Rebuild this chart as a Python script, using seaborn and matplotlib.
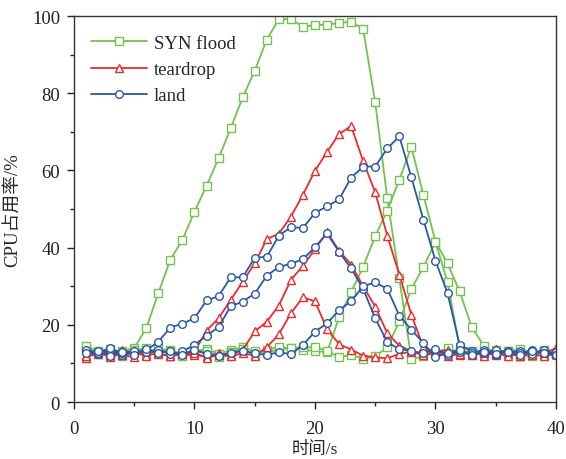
import numpy as np
import pandas as pd
import matplotlib
matplotlib.use("Agg")
import matplotlib.pyplot as plt
import seaborn as sns

# =============================================================================
# Data
# =============================================================================

time_s = list(range(1, 41))

syn_flood_1 = [14.0, 13.2, 12.3, 13.1, 14.0, 19.1, 28.2, 36.9, 42.0, 49.3,
               56.0, 63.1, 70.9, 78.9, 85.8, 93.9, 99.2, 99.2, 97.2, 97.6,
               97.8, 98.2, 98.5, 96.6, 77.6, 52.8, 32.0, 11.1, 11.8, 12.8,
               13.9, 13.0, 12.2, 13.1, 12.4, 13.3, 12.0, 12.6, 13.4, 12.2]
syn_flood_2 = [13.5, 12.4, 13.8, 12.0, 13.2, 14.1, 12.6, 13.5, 12.2, 13.0,
               13.8, 12.5, 13.4, 14.2, 13.1, 12.8, 13.6, 14.0, 13.5, 13.2,
               12.9, 21.9, 28.5, 35.0, 43.0, 49.6, 57.6, 66.1, 53.6, 41.5,
               31.0, 14.2, 13.2, 12.5, 13.6, 12.9, 13.8, 12.4, 13.0, 12.7]
syn_flood_3 = [14.6, 13.0, 11.8, 12.9, 13.6, 12.4, 14.0, 13.1, 11.9, 12.6,
               13.3, 11.7, 12.9, 13.8, 12.2, 13.5, 14.3, 13.9, 14.2, 14.2,
               13.3, 11.6, 12.2, 11.2, 11.8, 14.2, 20.9, 29.3, 35.0, 41.5,
               35.9, 28.7, 19.5, 14.6, 12.5, 13.2, 12.1, 11.9, 13.1, 12.4]

teardrop_1 = [11.5, 13.2, 12.4, 13.5, 12.6, 12.1, 13.8, 12.3, 12.9, 13.0,
              18.5, 21.7, 26.4, 31.2, 35.9, 42.2, 43.6, 48.0, 53.7, 59.9,
              64.8, 69.4, 71.5, 62.4, 54.3, 43.1, 33.0, 22.6, 14.2, 12.9,
              13.5, 12.2, 13.1, 12.6, 13.7, 12.4, 12.0, 13.3, 12.5, 14.0]
teardrop_2 = [12.2, 12.9, 11.6, 12.5, 13.3, 12.0, 12.7, 11.8, 12.4, 12.1,
              11.9, 12.6, 12.2, 13.5, 18.3, 20.8, 25.0, 31.6, 35.3, 39.6,
              44.0, 39.2, 35.6, 30.0, 24.7, 17.8, 14.6, 13.2, 12.4, 13.0,
              12.6, 13.4, 12.1, 12.8, 12.3, 13.1, 11.8, 12.5, 12.9, 12.6]
teardrop_3 = [11.8, 12.4, 12.9, 12.1, 11.7, 13.2, 12.5, 11.9, 12.6, 12.8,
              11.4, 12.2, 11.8, 12.7, 12.0, 14.2, 17.5, 23.0, 27.1, 26.1,
              18.9, 15.0, 13.6, 12.0, 11.6, 11.3, 12.5, 13.0, 12.2, 12.8,
              11.9, 12.4, 13.1, 12.0, 12.7, 11.8, 12.6, 12.3, 11.9, 12.4]

land_1 = [13.0, 12.4, 13.6, 12.2, 12.8, 13.4, 15.6, 19.3, 20.3, 21.7,
          26.3, 27.4, 32.3, 32.3, 37.4, 37.6, 43.1, 45.3, 45.1, 49.0,
          50.7, 52.5, 58.1, 61.0, 61.0, 65.7, 68.8, 58.2, 47.2, 36.6,
          28.2, 14.8, 13.3, 12.6, 13.5, 12.9, 13.2, 12.5, 13.6, 12.3]
land_2 = [13.5, 12.8, 14.0, 12.6, 13.2, 12.9, 13.6, 12.4, 13.1, 14.8,
          17.2, 19.4, 24.8, 26.0, 28.1, 32.7, 35.0, 35.8, 37.0, 40.1,
          43.7, 38.9, 34.6, 29.3, 21.7, 15.5, 13.7, 13.2, 12.6, 13.8,
          12.3, 13.0, 12.7, 13.5, 12.2, 13.1, 12.8, 13.4, 12.6, 12.9]
land_3 = [12.6, 13.3, 12.0, 13.0, 12.3, 13.8, 12.7, 13.2, 12.1, 13.6,
          12.4, 11.9, 12.8, 13.3, 12.6, 12.2, 12.9, 12.4, 14.8, 18.2,
          20.4, 23.8, 26.1, 30.0, 31.0, 29.3, 22.4, 18.7, 15.3, 11.6,
          12.8, 13.4, 12.2, 13.0, 12.5, 12.9, 12.1, 13.3, 12.7, 12.2]

attack_names = ["SYN flood", "teardrop", "land"]

# =============================================================================
# Styling
# =============================================================================

COLORS = {"SYN flood": "#72c250", "teardrop": "#ee2a2a", "land": "#2a58a8"}
MARKERS = {"SYN flood": "s", "teardrop": "^", "land": "o"}

series = [
    ("SYN flood", syn_flood_1), ("SYN flood", syn_flood_2), ("SYN flood", syn_flood_3),
    ("teardrop", teardrop_1), ("teardrop", teardrop_2), ("teardrop", teardrop_3),
    ("land", land_1), ("land", land_2), ("land", land_3),
]

sns.set_theme(style="ticks")
plt.rcParams["font.family"] = ["Liberation Serif", "Noto Sans CJK SC"]
plt.rcParams["axes.unicode_minus"] = False

fig = plt.figure(figsize=(5.66, 4.6), dpi=100)
ax = fig.add_axes([0.1307, 0.1239, 0.8516, 0.8391])

legend_handles = {}

for name, values in series:
    df = pd.DataFrame({"t": time_s, "cpu": values})
    sns.lineplot(
        data=df, x="t", y="cpu", ax=ax,
        color=COLORS[name], marker=MARKERS[name],
        markersize=5.5, markerfacecolor="white",
        markeredgecolor=COLORS[name], markeredgewidth=1.0,
        linewidth=1.3, legend=False,
    )
    if name not in legend_handles:
        legend_handles[name] = ax.lines[-1]

ax.legend(
    [legend_handles[n] for n in attack_names], attack_names,
    loc="upper left", frameon=False, fontsize=13.5,
    handlelength=3.0, handletextpad=0.35, labelspacing=0.48,
    bbox_to_anchor=(0.0, 0.995),
)

ax.set_xlim(0, 40)
ax.set_ylim(0, 100)
ax.set_xticks([0, 10, 20, 30, 40])
ax.set_xticks([5, 15, 25, 35], minor=True)
ax.set_yticks([0, 20, 40, 60, 80, 100])
ax.set_yticks([10, 30, 50, 70, 90], minor=True)

ax.tick_params(which="major", direction="out", length=5, width=1,
               labelsize=13.5, colors="#222222", top=False, right=False)
ax.tick_params(axis="x", which="major", pad=8)
ax.tick_params(axis="y", which="major", pad=5)
ax.tick_params(which="minor", direction="out", length=3, width=1,
               top=False, right=False)

for spine in ax.spines.values():
    spine.set_color("#333333")
    spine.set_linewidth(1.0)

ax.set_xlabel("时间/s", fontsize=12.5, labelpad=3)
ax.set_ylabel("CPU占用率/%", fontsize=13.5, labelpad=7)

fig.savefig("out.png", dpi=100)
plt.close(fig)
